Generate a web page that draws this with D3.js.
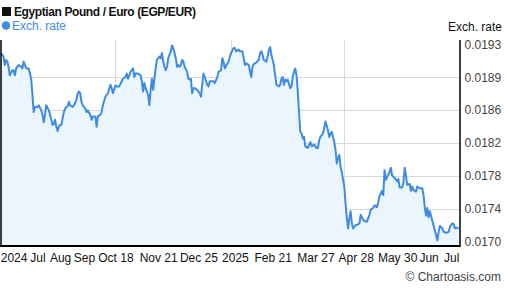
<!DOCTYPE html>
<html>
<head>
<meta charset="utf-8">
<script src="https://cdn.jsdelivr.net/npm/d3@7"></script>
<style>
  body { margin: 0; background: #fff; }
  svg { display: block; font-family: Arial, "Liberation Sans", sans-serif; }
</style>
</head>
<body>
<div id="chart"></div>
<script>
// Data: EGP/EUR daily rate
const rates = [
  ['2024-07-19', 0.01920], ['2024-07-21', 0.01916], ['2024-07-22', 0.01906], ['2024-07-23', 0.01912],
  ['2024-07-24', 0.01910], ['2024-07-25', 0.01904], ['2024-07-26', 0.01894], ['2024-07-28', 0.01900],
  ['2024-07-29', 0.01900], ['2024-07-30', 0.01894], ['2024-07-31', 0.01902], ['2024-08-02', 0.01906],
  ['2024-08-04', 0.01904], ['2024-08-05', 0.01902], ['2024-08-06', 0.01910], ['2024-08-08', 0.01902],
  ['2024-08-09', 0.01902], ['2024-08-10', 0.01902], ['2024-08-12', 0.01890], ['2024-08-13', 0.01871],
  ['2024-08-14', 0.01851], ['2024-08-15', 0.01857], ['2024-08-16', 0.01857], ['2024-08-17', 0.01857],
  ['2024-08-18', 0.01859], ['2024-08-20', 0.01853], ['2024-08-21', 0.01848], ['2024-08-22', 0.01839],
  ['2024-08-23', 0.01848], ['2024-08-24', 0.01859], ['2024-08-26', 0.01853], ['2024-08-27', 0.01848],
  ['2024-08-28', 0.01842], ['2024-08-29', 0.01836], ['2024-08-30', 0.01837], ['2024-08-31', 0.01842],
  ['2024-09-01', 0.01834], ['2024-09-02', 0.01829], ['2024-09-03', 0.01834], ['2024-09-04', 0.01836],
  ['2024-09-05', 0.01836], ['2024-09-06', 0.01844], ['2024-09-07', 0.01851], ['2024-09-08', 0.01855],
  ['2024-09-09', 0.01857], ['2024-09-10', 0.01858], ['2024-09-11', 0.01863], ['2024-09-12', 0.01859],
  ['2024-09-14', 0.01857], ['2024-09-15', 0.01859], ['2024-09-17', 0.01865], ['2024-09-18', 0.01873],
  ['2024-09-19', 0.01875], ['2024-09-20', 0.01873], ['2024-09-21', 0.01863], ['2024-09-22', 0.01859],
  ['2024-09-24', 0.01855], ['2024-09-25', 0.01851], ['2024-09-26', 0.01853], ['2024-09-28', 0.01848],
  ['2024-09-29', 0.01842], ['2024-09-30', 0.01846], ['2024-10-02', 0.01846], ['2024-10-03', 0.01834],
  ['2024-10-04', 0.01846], ['2024-10-06', 0.01848], ['2024-10-07', 0.01851], ['2024-10-08', 0.01859],
  ['2024-10-10', 0.01869], ['2024-10-11', 0.01871], ['2024-10-12', 0.01873], ['2024-10-14', 0.01883],
  ['2024-10-15', 0.01879], ['2024-10-16', 0.01873], ['2024-10-18', 0.01882], ['2024-10-19', 0.01881],
  ['2024-10-21', 0.01881], ['2024-10-23', 0.01887], ['2024-10-24', 0.01890], ['2024-10-26', 0.01892],
  ['2024-10-27', 0.01896], ['2024-10-28', 0.01890], ['2024-10-30', 0.01898], ['2024-10-31', 0.01900],
  ['2024-11-01', 0.01902], ['2024-11-02', 0.01892], ['2024-11-03', 0.01896], ['2024-11-05', 0.01896],
  ['2024-11-07', 0.01894], ['2024-11-08', 0.01887], ['2024-11-09', 0.01875], ['2024-11-10', 0.01885],
  ['2024-11-11', 0.01879], ['2024-11-13', 0.01871], ['2024-11-14', 0.01859], ['2024-11-15', 0.01877],
  ['2024-11-16', 0.01890], ['2024-11-17', 0.01877], ['2024-11-18', 0.01890], ['2024-11-19', 0.01902],
  ['2024-11-20', 0.01912], ['2024-11-22', 0.01916], ['2024-11-23', 0.01914], ['2024-11-24', 0.01920],
  ['2024-11-25', 0.01910], ['2024-11-26', 0.01904], ['2024-11-27', 0.01900], ['2024-11-28', 0.01904],
  ['2024-11-29', 0.01914], ['2024-12-01', 0.01922], ['2024-12-02', 0.01929], ['2024-12-03', 0.01926],
  ['2024-12-04', 0.01920], ['2024-12-05', 0.01914], ['2024-12-06', 0.01904], ['2024-12-07', 0.01906],
  ['2024-12-08', 0.01904], ['2024-12-09', 0.01906], ['2024-12-10', 0.01912], ['2024-12-11', 0.01910],
  ['2024-12-12', 0.01904], ['2024-12-14', 0.01898], ['2024-12-15', 0.01890], ['2024-12-16', 0.01889],
  ['2024-12-17', 0.01890], ['2024-12-18', 0.01873], ['2024-12-19', 0.01879], ['2024-12-20', 0.01879],
  ['2024-12-22', 0.01877], ['2024-12-24', 0.01873], ['2024-12-25', 0.01869], ['2024-12-26', 0.01883],
  ['2024-12-27', 0.01896], ['2024-12-28', 0.01892], ['2024-12-30', 0.01883], ['2024-12-31', 0.01881],
  ['2025-01-01', 0.01887], ['2025-01-03', 0.01887], ['2025-01-04', 0.01887], ['2025-01-05', 0.01885],
  ['2025-01-07', 0.01892], ['2025-01-08', 0.01898], ['2025-01-10', 0.01900], ['2025-01-11', 0.01914],
  ['2025-01-12', 0.01910], ['2025-01-13', 0.01902], ['2025-01-15', 0.01908], ['2025-01-16', 0.01910],
  ['2025-01-17', 0.01916], ['2025-01-18', 0.01920], ['2025-01-20', 0.01926], ['2025-01-21', 0.01926],
  ['2025-01-22', 0.01922], ['2025-01-24', 0.01924], ['2025-01-25', 0.01922], ['2025-01-27', 0.01922],
  ['2025-01-28', 0.01914], ['2025-01-29', 0.01906], ['2025-01-30', 0.01908], ['2025-01-31', 0.01907],
  ['2025-02-01', 0.01906], ['2025-02-03', 0.01892], ['2025-02-04', 0.01904], ['2025-02-05', 0.01907],
  ['2025-02-07', 0.01909], ['2025-02-09', 0.01912], ['2025-02-10', 0.01920], ['2025-02-11', 0.01922],
  ['2025-02-12', 0.01918], ['2025-02-13', 0.01912], ['2025-02-15', 0.01910], ['2025-02-16', 0.01916],
  ['2025-02-17', 0.01924], ['2025-02-18', 0.01927], ['2025-02-19', 0.01918], ['2025-02-21', 0.01906],
  ['2025-02-22', 0.01894], ['2025-02-23', 0.01883], ['2025-02-25', 0.01881], ['2025-02-26', 0.01883],
  ['2025-02-27', 0.01890], ['2025-02-28', 0.01892], ['2025-03-01', 0.01883], ['2025-03-02', 0.01889],
  ['2025-03-03', 0.01887], ['2025-03-04', 0.01889], ['2025-03-06', 0.01879], ['2025-03-07', 0.01881],
  ['2025-03-08', 0.01892], ['2025-03-09', 0.01898], ['2025-03-10', 0.01902], ['2025-03-11', 0.01894],
  ['2025-03-12', 0.01875], ['2025-03-13', 0.01851], ['2025-03-14', 0.01828], ['2025-03-15', 0.01826],
  ['2025-03-16', 0.01820], ['2025-03-17', 0.01822], ['2025-03-18', 0.01811], ['2025-03-20', 0.01809],
  ['2025-03-21', 0.01813], ['2025-03-22', 0.01816], ['2025-03-23', 0.01811], ['2025-03-25', 0.01813],
  ['2025-03-27', 0.01809], ['2025-03-28', 0.01809], ['2025-03-29', 0.01818], ['2025-03-30', 0.01822],
  ['2025-04-01', 0.01826], ['2025-04-02', 0.01832], ['2025-04-03', 0.01840], ['2025-04-05', 0.01830],
  ['2025-04-06', 0.01822], ['2025-04-07', 0.01826], ['2025-04-08', 0.01828], ['2025-04-10', 0.01816],
  ['2025-04-11', 0.01807], ['2025-04-12', 0.01791], ['2025-04-13', 0.01797], ['2025-04-14', 0.01801],
  ['2025-04-15', 0.01787], ['2025-04-16', 0.01781], ['2025-04-17', 0.01772], ['2025-04-18', 0.01764],
  ['2025-04-19', 0.01744], ['2025-04-20', 0.01727], ['2025-04-21', 0.01715], ['2025-04-22', 0.01727],
  ['2025-04-23', 0.01735], ['2025-04-24', 0.01721], ['2025-04-25', 0.01715], ['2025-04-27', 0.01719],
  ['2025-04-28', 0.01719], ['2025-04-30', 0.01721], ['2025-05-01', 0.01731], ['2025-05-03', 0.01725],
  ['2025-05-05', 0.01723], ['2025-05-06', 0.01723], ['2025-05-08', 0.01731], ['2025-05-09', 0.01737],
  ['2025-05-11', 0.01739], ['2025-05-12', 0.01742], ['2025-05-14', 0.01740], ['2025-05-15', 0.01746],
  ['2025-05-16', 0.01753], ['2025-05-18', 0.01759], ['2025-05-19', 0.01754], ['2025-05-20', 0.01783],
  ['2025-05-21', 0.01772], ['2025-05-22', 0.01775], ['2025-05-24', 0.01781], ['2025-05-25', 0.01786],
  ['2025-05-26', 0.01777], ['2025-05-28', 0.01774], ['2025-05-30', 0.01770], ['2025-05-31', 0.01773],
  ['2025-06-01', 0.01763], ['2025-06-03', 0.01763], ['2025-06-04', 0.01769], ['2025-06-05', 0.01786],
  ['2025-06-06', 0.01777], ['2025-06-07', 0.01766], ['2025-06-09', 0.01767], ['2025-06-10', 0.01759],
  ['2025-06-11', 0.01764], ['2025-06-12', 0.01760], ['2025-06-14', 0.01758], ['2025-06-15', 0.01764],
  ['2025-06-17', 0.01762], ['2025-06-19', 0.01762], ['2025-06-20', 0.01754], ['2025-06-21', 0.01740],
  ['2025-06-22', 0.01730], ['2025-06-23', 0.01739], ['2025-06-24', 0.01728], ['2025-06-25', 0.01735],
  ['2025-06-27', 0.01724], ['2025-06-28', 0.01718], ['2025-06-29', 0.01713], ['2025-06-30', 0.01707],
  ['2025-07-01', 0.01701], ['2025-07-02', 0.01711], ['2025-07-03', 0.01718], ['2025-07-05', 0.01715],
  ['2025-07-06', 0.01711], ['2025-07-08', 0.01710], ['2025-07-10', 0.01711], ['2025-07-11', 0.01717],
  ['2025-07-13', 0.01721], ['2025-07-14', 0.01720], ['2025-07-15', 0.01715], ['2025-07-16', 0.01716],
  ['2025-07-18', 0.01715]
]

const xTickDates = ['2024-07-29', '2024-08-17', '2024-09-04', '2024-09-23', '2024-10-18', '2024-11-21',
  '2024-12-23', '2025-01-21', '2025-02-20', '2025-03-26', '2025-04-27', '2025-05-30', '2025-06-24', '2025-07-12']
const xTickLabels = ['2024', 'Jul', 'Aug', 'Sep', 'Oct 18', 'Nov 21', 'Dec 25', '2025',
  'Feb 21', 'Mar 27', 'Apr 28', 'May 30', 'Jun', 'Jul']
const gridDates = ['2024-10-18', '2025-01-18', '2025-04-18']
const yTickLabels = ['0.0170', '0.0174', '0.0178', '0.0182', '0.0186', '0.0189', '0.0193']
const dateRange = ['2024-07-19', '2025-07-19']

const parse = d3.utcParse('%Y-%m-%d')
const xAccessor = d => parse(d[0])
const yAccessor = d => d[1]

// Dimensions
const dimensions = {
  width: 507,
  height: 288,
  plotLeft: 1,
  plotRight: 460,
  plotTop: 40,
  plotBottom: 245.5
}

const svg = d3.select('#chart')
  .append('svg')
  .attr('width', dimensions.width)
  .attr('height', dimensions.height)

// Scales
const xScale = d3.scaleUtc()
  .domain(dateRange.map(parse))
  .range([dimensions.plotLeft, dimensions.plotRight])

const yLo = +yTickLabels[0]
const yHi = +yTickLabels[yTickLabels.length - 1]
const yScale = d3.scaleLinear()
  .domain([yLo, yHi])
  .range([241.3, 44.5])

// ticks are evenly spaced between first and last label
const yTickValues = yTickLabels.map((_, i) => yLo + (yHi - yLo) * i / (yTickLabels.length - 1))

// Gridlines (under the area)
const grid = svg.append('g').attr('stroke', '#d9d9d9').attr('stroke-width', 1)
grid.selectAll('.hgrid')
  .data(yTickValues.slice(1, -1))
  .join('line')
  .attr('x1', dimensions.plotLeft)
  .attr('x2', dimensions.plotRight)
  .attr('y1', d => Math.round(yScale(d)) + 0.5)
  .attr('y2', d => Math.round(yScale(d)) + 0.5)
grid.selectAll('.vgrid')
  .data(gridDates)
  .join('line')
  .attr('x1', d => Math.round(xScale(parse(d))) + 0.5)
  .attr('x2', d => Math.round(xScale(parse(d))) + 0.5)
  .attr('y1', dimensions.plotTop)
  .attr('y2', dimensions.plotBottom)

// Area + line
const area = d3.area()
  .x(d => xScale(xAccessor(d)))
  .y0(dimensions.plotBottom)
  .y1(d => yScale(yAccessor(d)))

const line = d3.line()
  .x(d => xScale(xAccessor(d)))
  .y(d => yScale(yAccessor(d)))

svg.append('path')
  .datum(rates)
  .attr('d', area)
  .attr('fill', '#ebf5fe')

svg.append('path')
  .datum(rates)
  .attr('d', line)
  .attr('fill', 'none')
  .attr('stroke', '#3d8be2')
  .attr('stroke-width', 2)
  .attr('stroke-linejoin', 'round')

// Axes frame
svg.append('line')
  .attr('x1', 1).attr('x2', 1)
  .attr('y1', dimensions.plotTop).attr('y2', dimensions.plotBottom + 1)
  .attr('stroke', '#000').attr('stroke-width', 1.5)
svg.append('line')
  .attr('x1', dimensions.plotRight).attr('x2', dimensions.plotRight)
  .attr('y1', dimensions.plotTop).attr('y2', dimensions.plotBottom + 1)
  .attr('stroke', '#000').attr('stroke-width', 1.5)
svg.append('line')
  .attr('x1', 0).attr('x2', dimensions.plotRight + 0.75)
  .attr('y1', dimensions.plotBottom + 0.5).attr('y2', dimensions.plotBottom + 0.5)
  .attr('stroke', '#000').attr('stroke-width', 2)

// X axis labels
const xAxis = d3.axisBottom(xScale)
  .tickValues(xTickDates.map(parse))
  .tickFormat((_, i) => xTickLabels[i])
  .tickSize(0)
  .tickPadding(0)

const xAxisGroup = svg.append('g')
  .attr('transform', `translate(0, ${dimensions.plotBottom})`)
  .call(xAxis)
xAxisGroup.select('.domain').remove()
xAxisGroup.selectAll('text')
  .attr('y', 16.5)
  .attr('dy', null)
  .attr('fill', '#111')
  .style('font-size', '12px')
  .style('font-family', 'Arial, "Liberation Sans", sans-serif')

// Y axis labels (right)
const yAxis = d3.axisRight(yScale)
  .tickValues(yTickValues)
  .tickFormat((_, i) => yTickLabels[i])
  .tickSize(0)
  .tickPadding(4.5)

const yAxisGroup = svg.append('g')
  .attr('transform', `translate(${dimensions.plotRight}, 0)`)
  .call(yAxis)
yAxisGroup.select('.domain').remove()
yAxisGroup.selectAll('text')
  .attr('fill', '#444')
  .style('font-size', '12px')
  .style('font-family', 'Arial, "Liberation Sans", sans-serif')

svg.append('text')
  .text('Exch. rate')
  .attr('x', 502)
  .attr('y', 31)
  .attr('text-anchor', 'end')
  .attr('fill', '#111')
  .style('font-size', '12px')

// Title and legend
svg.append('rect')
  .attr('x', 2).attr('y', 7).attr('width', 9).attr('height', 9)
  .attr('fill', '#111')
svg.append('text')
  .text('Egyptian Pound / Euro (EGP/EUR)')
  .attr('x', 14)
  .attr('y', 16)
  .attr('fill', '#111')
  .style('font-size', '12px')
  .style('font-weight', 'bold')
  .style('letter-spacing', '-0.4px')

svg.append('circle')
  .attr('cx', 6).attr('cy', 25.5).attr('r', 4.2)
  .attr('fill', '#3d8be2')
svg.append('text')
  .text('Exch. rate')
  .attr('x', 12)
  .attr('y', 30)
  .attr('fill', '#3d8be2')
  .style('font-size', '12px')

// Credit
svg.append('text')
  .text('© Chartoasis.com')
  .attr('x', 501)
  .attr('y', 281)
  .attr('text-anchor', 'end')
  .attr('fill', '#444')
  .style('font-size', '12px')
</script>
</body>
</html>
